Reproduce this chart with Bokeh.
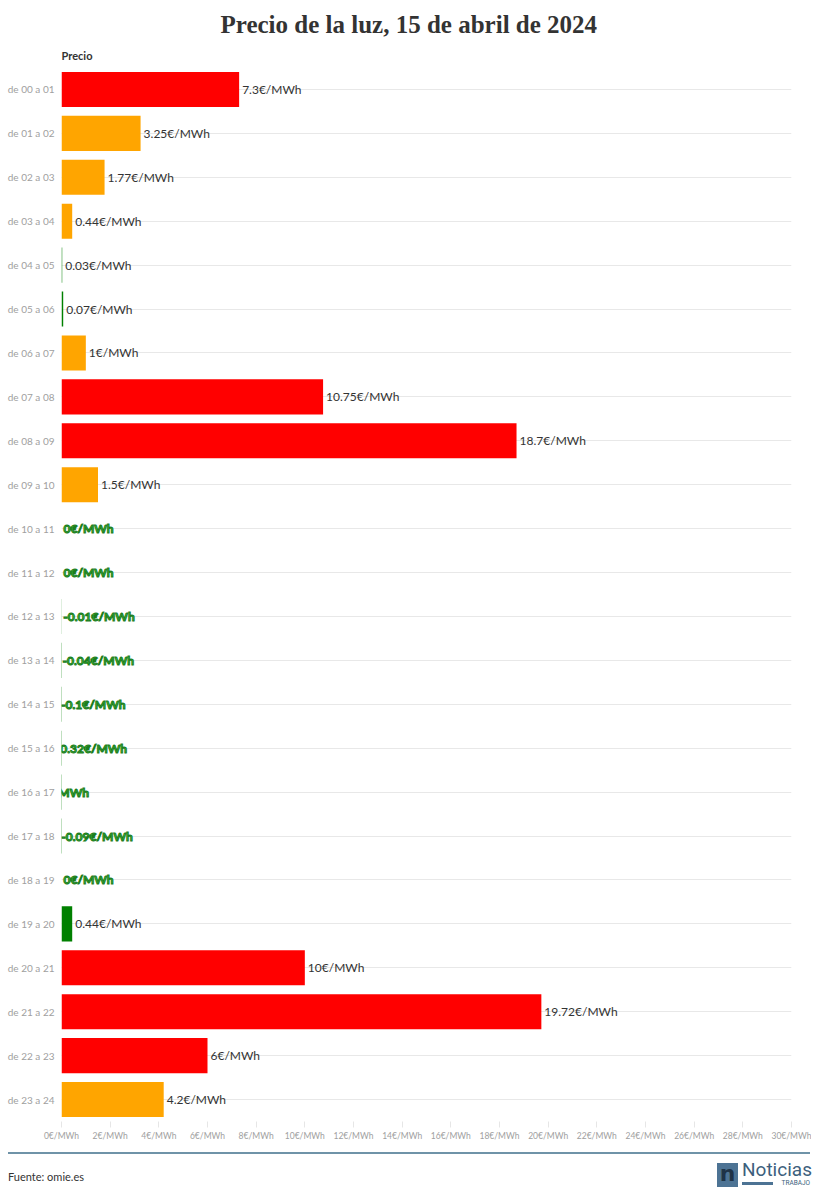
from bokeh.plotting import figure
from bokeh.models import Range1d, Title, ColumnDataSource, FixedTicker, Div
from bokeh.layouts import column
from bokeh.core.properties import value
from bokeh.embed import file_html
from bokeh.resources import INLINE

hours = ["de %02d a %02d" % (h, h + 1) for h in range(24)]
prices = [7.3, 3.25, 1.77, 0.44, 0.03, 0.07, 1, 10.75, 18.7, 1.5, 0, 0,
          -0.01, -0.04, -0.1, -0.32, -1.6, -0.09, 0, 0.44, 10, 19.72, 6, 4.2]
colors = ["#ff0000", "#ffa500", "#ffa500", "#ffa500", "#008000", "#008000",
          "#ffa500", "#ff0000", "#ff0000", "#ffa500", "#008000", "#008000",
          "#008000", "#008000", "#008000", "#008000", "#008000", "#008000",
          "#008000", "#008000", "#ff0000", "#ff0000", "#ff0000", "#ffa500"]
x_ticks = list(range(0, 31, 2))
tick_labels = {t: "%d€/MWh" % t for t in x_ticks}

TITLE = "Precio de la luz, 15 de abril de 2024"
SUBTITLE = "Precio"
SOURCE = "Fuente: omie.es"

def fmt(v):
    return "%g€/MWh" % v

FONT = "Lato"
W = 811
MAIN_H = 1145

rows = list(range(len(hours)))
p = figure(width=W, height=MAIN_H, output_backend="svg", toolbar_location=None,
           y_range=Range1d(len(hours) - 0.5, -0.5),
           x_range=Range1d(0, 30), title=None,
           min_border_left=61, min_border_right=20, min_border_top=67,
           min_border_bottom=24)
p.outline_line_color = None
p.background_fill_color = "white"
p.border_fill_color = "white"

sub = Title(text=SUBTITLE, text_font=FONT, text_font_size="11px",
            text_font_style="bold", text_color="#333333", align="left",
            standoff=12)
p.add_layout(sub, "above")
main = Title(text=TITLE, text_font="Liberation Serif", text_font_size="25px",
             text_font_style="bold", text_color="#333333", align="left",
             offset=159, standoff=6)
p.add_layout(main, "above")

src = ColumnDataSource(dict(row=rows, price=prices, color=colors))
p.hbar(y="row", left=0, right="price", height=0.8, fill_color="color",
       line_color=None, source=src)

pos = dict(row=[r for r, v in zip(rows, prices) if v > 0],
           price=[v for v in prices if v > 0],
           label=[fmt(v) for v in prices if v > 0])
neg = dict(row=[r for r, v in zip(rows, prices) if v <= 0],
           price=[v for v in prices if v <= 0],
           label=[fmt(v) for v in prices if v <= 0])
p.text(x="price", y="row", text="label", source=ColumnDataSource(pos),
       x_offset=3, text_baseline="middle", text_align="left",
       text_font=value(FONT), text_font_size="12px", text_color="#333333")
p.text(x="price", y="row", text="label", source=ColumnDataSource(neg),
       x_offset=2, text_baseline="middle", text_align="left",
       text_font=value(FONT), text_font_size="12px", text_font_style="bold",
       text_color="#46d646", text_outline_color="#1d7d1d")

p.xgrid.grid_line_color = None
p.ygrid.grid_line_color = "#e8e8e8"
p.ygrid.grid_line_width = 1

p.yaxis.ticker = FixedTicker(ticks=rows)
p.yaxis.major_label_overrides = {r: h for r, h in zip(rows, hours)}
p.yaxis.axis_line_color = None
p.yaxis.major_tick_line_color = None
p.yaxis.minor_tick_line_color = None
p.yaxis.major_label_text_color = "#a0a0a0"
p.yaxis.major_label_text_font = FONT
p.yaxis.major_label_text_font_size = "10px"
p.yaxis.major_label_standoff = 1

p.xaxis.ticker = FixedTicker(ticks=x_ticks)
p.xaxis.major_label_overrides = tick_labels
p.xaxis.axis_line_color = None
p.xaxis.minor_tick_line_color = None
p.xaxis.major_tick_line_color = "#e6e6e6"
p.xaxis.major_tick_out = 6
p.xaxis.major_tick_in = 0
p.xaxis.major_label_text_color = "#a0a0a0"
p.xaxis.major_label_text_font = FONT
p.xaxis.major_label_text_font_size = "8.5px"
p.xaxis.major_label_standoff = 3

footer_html = (
    '<div style="position:relative;width:811px;height:47px;margin:0;padding:0;">'
    '<div style="position:absolute;left:8px;top:7px;width:802px;height:2px;background:#6f93a8;"></div>'
    '<div style="position:absolute;left:8px;top:24px;font-family:Lato;font-size:11px;'
    'line-height:16px;color:#333333;">%s</div>'
    '<div style="position:absolute;left:717px;top:18px;width:21px;height:24px;background:#4d7394;'
    'color:#1f3347;font-family:\'DejaVu Sans\';font-weight:bold;font-size:22px;line-height:22px;'
    'text-align:center;">n</div>'
    '<div style="position:absolute;left:742px;top:14px;font-family:Roboto;font-size:19px;'
    'line-height:22px;color:#3d5f7d;">Noticias</div>'
    '<div style="position:absolute;left:742px;top:37px;width:31px;height:3px;background:#4d7394;"></div>'
    '<div style="position:absolute;right:1px;top:34px;font-family:Roboto;font-size:6.5px;'
    'line-height:9px;color:#3d5f7d;">TRABAJO</div>'
    '</div>' % SOURCE
)
footer = Div(text=footer_html, width=W, height=47, margin=0)

layout = column(p, footer, spacing=0)
open("out.html", "w").write(file_html(layout, INLINE))
